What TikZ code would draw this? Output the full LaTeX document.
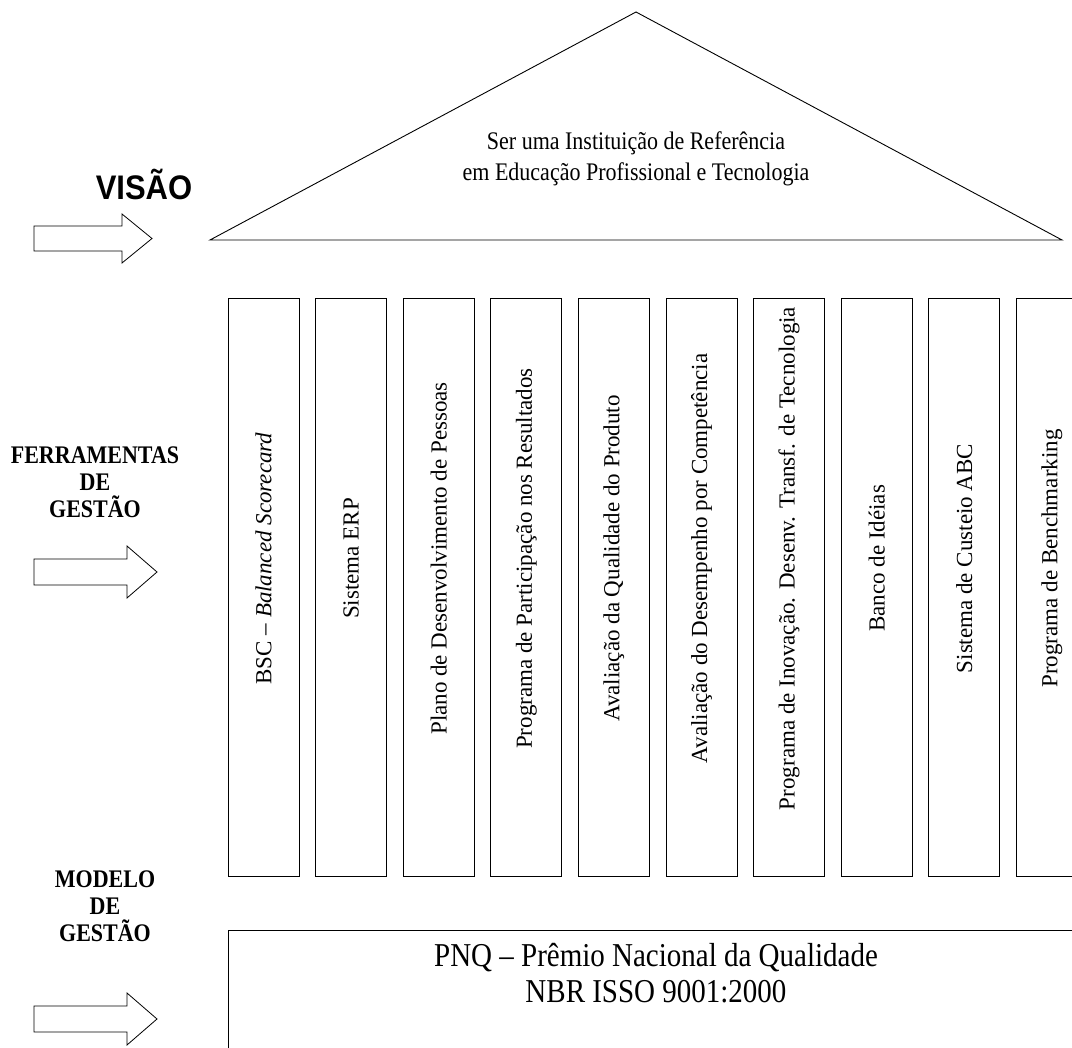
\documentclass[tikz,border=0pt]{standalone}
\usepackage{fontspec}
\setmainfont{Liberation Serif}
\newfontfamily\headsans{Liberation Sans}
\usetikzlibrary{calc}
\begin{document}
\begin{tikzpicture}[x=1pt,y=-1pt,
  outline/.style={draw=black,line width=0.9pt,fill=white},
  pillar/.style={outline,minimum width=71pt,minimum height=578pt,anchor=north west,inner sep=0pt},
  pillartext/.style={rotate=90,font=\fontsize{23}{26}\selectfont,inner sep=0pt},
  blockarrow/.style={draw=black,line width=0.8pt,fill=white,line join=miter},
  sidelabel/.style={align=center,yscale=1.15,font=\fontsize{22}{23.5}\selectfont\bfseries,inner sep=0pt},
  bodytext/.style={align=center,yscale=1.15,inner sep=0pt},
]
\useasboundingbox (0,0) rectangle (1072,1048);
\clip (0,0) rectangle (1072,1048);

% roof: the vision
\draw[outline] (210,240) -- (636,12) -- (1062,240) -- cycle;
\node[bodytext,font=\fontsize{22}{27}\selectfont] (vision) at (636,159)
  {Ser uma Instituição de Referência\\em Educação Profissional e Tecnologia};

% left-hand headings
\node[inner sep=0pt,yscale=1.1,font=\headsans\bfseries\fontsize{31}{36}\selectfont] (lblvisao) at (144,184) {VISÃO};
\node[sidelabel] (lblferr) at (95,482) {FERRAMENTAS\\DE\\GESTÃO};
\node[sidelabel] (lblmodelo) at (105,906) {MODELO\\DE\\GESTÃO};

% block arrows
\draw[blockarrow] (34,226) -- (122,226) -- (122,214) -- (152,238.5) -- (122,263) -- (122,251) -- (34,251) -- cycle;
\draw[blockarrow] (34,559) -- (127,559) -- (127,546) -- (157,572) -- (127,598) -- (127,585) -- (34,585) -- cycle;
\draw[blockarrow] (34,1006) -- (127,1006) -- (127,993) -- (157,1019) -- (127,1045) -- (127,1032) -- (34,1032) -- cycle;

% pillars: management tools
\foreach \t [count=\i from 0] in {
  {BSC -- \textit{Balanced Scorecard}},
  {Sistema ERP},
  {Plano de Desenvolvimento de Pessoas},
  {Programa de Participação nos Resultados},
  {Avaliação da Qualidade do Produto},
  {Avaliação do Desempenho por Competência},
  {Programa de Inovação. Desenv. Transf. de Tecnologia},
  {Banco de Idéias},
  {Sistema de Custeio ABC},
  {Programa de Benchmarking}} {
  \pgfmathsetmacro\xl{227.5+87.6*\i}
  \node[pillar] (col\i) at (\xl,298) {};
  \node[pillartext] (tool\i) at ($(col\i.center)+(0,-29)$) {\t};
}

% foundation: the management model
\node[outline,anchor=north west,minimum width=858pt,minimum height=140pt,inner sep=0pt] (base) at (228,930) {};
\node[bodytext,font=\fontsize{29}{31}\selectfont] (model) at (656,973)
  {PNQ -- Prêmio Nacional da Qualidade\\NBR ISSO 9001:2000};
\end{tikzpicture}
\end{document}
